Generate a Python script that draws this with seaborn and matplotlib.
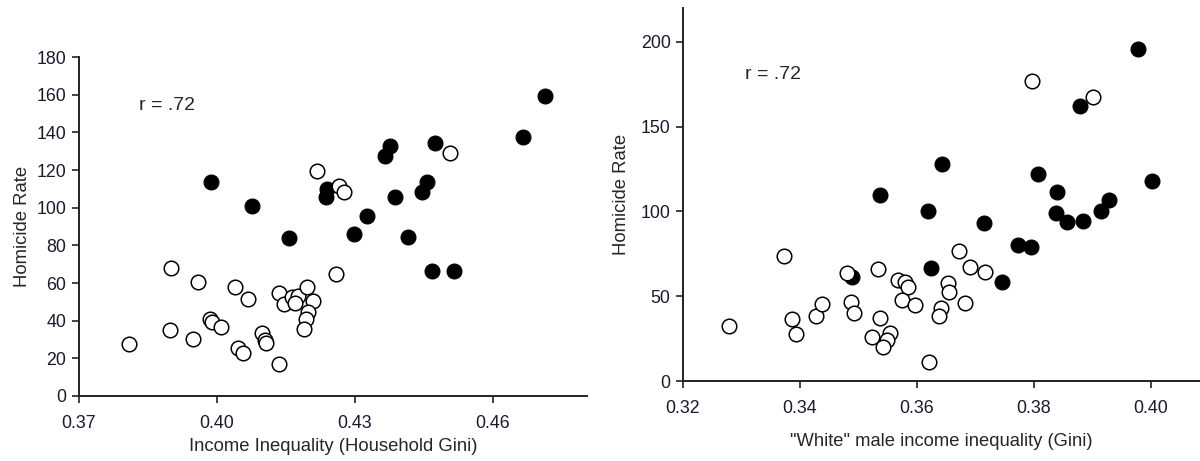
import matplotlib
matplotlib.use("Agg")
import matplotlib.pyplot as plt
import seaborn as sns
import pandas as pd

# ---- Left panel data (Income Inequality, Household Gini) ----
left_filled_x = [0.3987, 0.4076, 0.4157, 0.4239, 0.4237, 0.4326, 0.4298, 0.4376, 0.4365,
                 0.4387, 0.4415, 0.4474, 0.4457, 0.4446, 0.4467, 0.4515, 0.4665, 0.4713]
left_filled_y = [113.6, 100.9, 83.9, 110.0, 105.7, 95.6, 86.0, 132.8, 127.5,
                 105.7, 84.4, 134.4, 113.6, 108.3, 66.4, 66.4, 137.5, 159.3]
left_open_x = [0.3809, 0.3900, 0.3898, 0.3959, 0.3948, 0.3985, 0.3989, 0.4009, 0.4039, 0.4067,
               0.4046, 0.4057, 0.4098, 0.4104, 0.4106, 0.4135, 0.4135, 0.4146, 0.4163, 0.4176,
               0.4170, 0.4196, 0.4209, 0.4198, 0.4193, 0.4189, 0.4259, 0.4217, 0.4265, 0.4276,
               0.4507]
left_open_y = [27.6, 68.0, 35.0, 60.5, 30.3, 40.9, 39.3, 36.6, 57.9, 51.5,
               25.5, 22.8, 33.5, 29.7, 28.0, 17.0, 54.7, 48.9, 52.6, 53.0,
               49.4, 57.9, 50.5, 44.6, 40.9, 35.6, 64.8, 119.5, 111.5, 108.3,
               129.0]

# ---- Right panel data ("White" male income inequality) ----
right_filled_x = [0.3489, 0.3537, 0.3624, 0.3619, 0.3643, 0.3715, 0.3745, 0.3773, 0.3795, 0.3807,
                  0.3839, 0.3838, 0.3856, 0.3884, 0.3879, 0.3915, 0.3928, 0.3978, 0.4002]
right_filled_y = [61.4, 109.7, 66.4, 100.3, 128.0, 93.2, 58.4, 80.2, 79.1, 122.1,
                  111.5, 99.1, 93.8, 94.4, 162.2, 100.3, 106.8, 195.9, 118.0]
right_open_x = [0.3279, 0.3373, 0.3386, 0.3393, 0.3427, 0.3438, 0.3480, 0.3487, 0.3492, 0.3533,
                0.3537, 0.3523, 0.3554, 0.3549, 0.3542, 0.3568, 0.3580, 0.3585, 0.3574, 0.3597,
                0.3653, 0.3655, 0.3641, 0.3638, 0.3621, 0.3672, 0.3691, 0.3716, 0.3682, 0.3797,
                0.3901]
right_open_y = [32.4, 73.7, 36.6, 27.7, 38.3, 45.4, 63.7, 46.6, 40.1, 66.1,
                37.2, 26.0, 28.3, 24.2, 20.0, 59.6, 58.4, 55.5, 47.8, 44.8,
                57.8, 52.5, 43.1, 38.3, 11.2, 76.7, 67.3, 64.3, 46.0, 177.0,
                167.6]

left_xticks = [0.37, 0.40, 0.43, 0.46]
left_xticklabels = ["0.37", "0.40", "0.43", "0.46"]
left_yticks = [0, 20, 40, 60, 80, 100, 120, 140, 160, 180]
right_xticks = [0.32, 0.34, 0.36, 0.38, 0.40]
right_xticklabels = ["0.32", "0.34", "0.36", "0.38", "0.40"]
right_yticks = [0, 50, 100, 150, 200]

sns.set_style("ticks")
plt.rcParams['font.family'] = ['Liberation Sans', 'DejaVu Sans']

fig = plt.figure(figsize=(12, 4.61), dpi=100)
axL = fig.add_axes([0.0658, 0.141, 0.4233, 0.735])
axR = fig.add_axes([0.5692, 0.1735, 0.4308, 0.809])

def draw(ax, fx, fy, ox, oy):
    sns.scatterplot(x=fx, y=fy, ax=ax, color="black", edgecolor="black",
                    s=115, linewidth=0.8, zorder=3, legend=False)
    sns.scatterplot(x=ox, y=oy, ax=ax, color="white", edgecolor="black",
                    s=110, linewidth=1.1, zorder=4, legend=False)
    for sp in ["top", "right"]:
        ax.spines[sp].set_visible(False)
    for sp in ["left", "bottom"]:
        ax.spines[sp].set_color("#222222")
        ax.spines[sp].set_linewidth(1.4)
    ax.tick_params(axis="both", direction="out", length=5, width=1.2,
                   colors="#222222", labelsize=12.8, labelcolor="#1a1a2e")
    ax.tick_params(axis="x", pad=9)
    ax.tick_params(axis="y", pad=4)

draw(axL, left_filled_x, left_filled_y, left_open_x, left_open_y)
axL.set_xlim(0.37, 0.4804)
axL.set_ylim(0, 180)
axL.set_xticks(left_xticks)
axL.set_xticklabels(left_xticklabels)
axL.set_yticks(left_yticks)
axL.set_xlabel("Income Inequality (Household Gini)", fontsize=13.3, labelpad=4)
axL.set_ylabel("Homicide Rate", fontsize=13.3, labelpad=4)
axL.text(0.3831, 154.5, "r = .72", fontsize=14, va="center", ha="left")

draw(axR, right_filled_x, right_filled_y, right_open_x, right_open_y)
axR.set_xlim(0.32, 0.4084)
axR.set_ylim(0, 220)
axR.set_xticks(right_xticks)
axR.set_xticklabels(right_xticklabels)
axR.set_yticks(right_yticks)
axR.set_xlabel("\"White\" male income inequality (Gini)", fontsize=13.2, labelpad=11)
axR.set_ylabel("Homicide Rate", fontsize=13.3, labelpad=8)
axR.text(0.3306, 181, "r = .72", fontsize=14, va="center", ha="left")

fig.savefig("out.png", dpi=100, facecolor="white")
